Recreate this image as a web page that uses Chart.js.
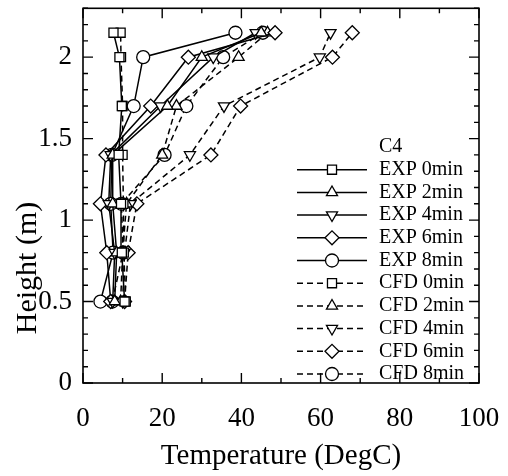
<!DOCTYPE html>
<html>
<head>
<meta charset="utf-8">
<script src="https://cdn.jsdelivr.net/npm/chart.js@4.4.1/dist/chart.umd.min.js"></script>
<style>
  html, body { margin: 0; padding: 0; background: #fff; }
  #wrap { width: 508px; height: 476px; }
</style>
</head>
<body>
<div id="wrap"><canvas id="myChart" width="508" height="476"></canvas></div>
<script>
// heights (m) where temperatures were taken
const heights = [0.5, 0.8, 1.1, 1.4, 1.7, 2.0, 2.15];

// temperatures (DegC)
const exp0 = [10.5, 9.8, 9.6, 9.0, 9.8, 9.2, 7.7];
const exp2 = [8.0, 8.5, 7.5, 7.5, 21.3, 30.0, 45.0];
const exp4 = [7.5, 8.0, 6.5, 7.0, 19.6, 32.9, 43.6];
const exp6 = [7.0, 6.0, 4.4, 5.8, 17.1, 26.6, 48.5];
const exp8 = [4.4, 7.6, 7.0, 7.3, 12.8, 15.2, 38.5];
const cfd0 = [10.8, 10.3, 10.2, 10.0, 10.0, 9.6, 9.5];
const cfd2 = [9.5, 10.0, 11.0, 20.0, 23.6, 39.3, 46.6];
const cfd4 = [10.0, 10.5, 12.0, 27.0, 35.6, 59.8, 62.5];
const cfd6 = [10.5, 11.4, 13.6, 32.3, 39.8, 63.0, 68.0];
const cfd8 = [7.4, 10.1, 9.7, 20.6, 26.1, 35.4, 45.4];

const seriesNames = ['EXP 0min', 'EXP 2min', 'EXP 4min', 'EXP 6min', 'EXP 8min',
                     'CFD 0min', 'CFD 2min', 'CFD 4min', 'CFD 6min', 'CFD 8min'];
const seriesData = [exp0, exp2, exp4, exp6, exp8, cfd0, cfd2, cfd4, cfd6, cfd8];

const xTicks = [0, 20, 40, 60, 80, 100];
const yTicks = [0, 0.5, 1, 1.5, 2];
const legendTitle = 'C4';

const FONT = '"Liberation Serif", "Times New Roman", serif';
const markers = [
  {style: 'rect', rot: 0, r: 6.4},
  {style: 'triangle', rot: 0, r: 6.4},
  {style: 'triangle', rot: 180, r: 6.4},
  {style: 'rectRot', rot: 0, r: 7.0},
  {style: 'circle', rot: 0, r: 6.5}
];

const datasets = seriesData.map(function(arr, i) {
  const m = markers[i % 5];
  return {
    label: seriesNames[i],
    data: arr.map((t, k) => ({x: t, y: heights[k]})),
    showLine: true,
    borderColor: '#000',
    borderWidth: 1.5,
    borderDash: i < 5 ? [] : [6, 4],
    pointStyle: m.style,
    pointRotation: m.rot,
    pointRadius: m.r,
    pointBackgroundColor: '#fff',
    pointBorderColor: '#000',
    pointBorderWidth: 1.3,
    tension: 0
  };
});

// frame + inward ticks on all four sides, legend in the chart area, y title
const decorations = {
  id: 'decorations',
  afterDraw(chart) {
    const ctx = chart.ctx;
    const a = chart.chartArea;
    const xs = chart.scales.x, ys = chart.scales.y;
    ctx.save();
    ctx.strokeStyle = '#000';
    ctx.lineWidth = 1.6;
    ctx.strokeRect(a.left, a.top, a.right - a.left, a.bottom - a.top);
    ctx.lineWidth = 1.4;
    ctx.beginPath();
    for (let v = 0; v <= 100; v += 10) {
      const px = xs.getPixelForValue(v);
      const len = xTicks.includes(v) ? 10 : 5;
      ctx.moveTo(px, a.bottom); ctx.lineTo(px, a.bottom - len);
      ctx.moveTo(px, a.top); ctx.lineTo(px, a.top + len);
    }
    for (let i = 0; i <= 23; i++) {
      const v = i / 10;
      const py = ys.getPixelForValue(v);
      const len = (i % 5 === 0) ? 10 : 5;
      ctx.moveTo(a.left, py); ctx.lineTo(a.left + len, py);
      ctx.moveTo(a.right, py); ctx.lineTo(a.right - len, py);
    }
    ctx.stroke();

    // legend
    const lx0 = 297, lx1 = 367, tx = 379;
    let ly = 147;
    const step = 22.7;
    ctx.fillStyle = '#000';
    ctx.font = '20px ' + FONT;
    ctx.textBaseline = 'middle';
    ctx.textAlign = 'left';
    ctx.fillText(legendTitle, tx, ly);
    chart.data.datasets.forEach(function(ds) {
      ly += step;
      ctx.save();
      ctx.lineWidth = ds.borderWidth;
      ctx.setLineDash(ds.borderDash);
      ctx.beginPath();
      ctx.moveTo(lx0, ly); ctx.lineTo(lx1, ly);
      ctx.stroke();
      ctx.restore();
      ctx.save();
      ctx.fillStyle = '#fff';
      ctx.strokeStyle = '#000';
      ctx.lineWidth = ds.pointBorderWidth;
      Chart.helpers.drawPoint(ctx, {pointStyle: ds.pointStyle, rotation: ds.pointRotation,
        radius: ds.pointRadius, borderWidth: ds.pointBorderWidth}, (lx0 + lx1) / 2, ly);
      ctx.restore();
      ctx.fillText(ds.label, tx, ly);
    });

    // y axis title
    ctx.save();
    ctx.translate(28, 268);
    ctx.rotate(-Math.PI / 2);
    ctx.font = '30px ' + FONT;
    ctx.textAlign = 'center';
    ctx.textBaseline = 'middle';
    ctx.fillText('Height (m)', 0, 0);
    ctx.restore();
    ctx.restore();
  }
};

function noPad(s) {
  s.paddingTop = 0; s.paddingBottom = 0; s.paddingLeft = 0; s.paddingRight = 0;
}

const ctx = document.getElementById('myChart').getContext('2d');
const myChart = new Chart(ctx, {
  type: 'scatter',
  data: { datasets: datasets },
  options: {
    responsive: false,
    animation: false,
    layout: { padding: { top: 5, right: 29, left: 0, bottom: 0 } },
    plugins: {
      legend: { display: false },
      tooltip: { enabled: false }
    },
    scales: {
      x: {
        type: 'linear',
        min: 0, max: 100,
        grid: { display: false, drawTicks: false },
        border: { display: false },
        afterBuildTicks: s => { s.ticks = xTicks.map(v => ({value: v})); },
        afterFit: s => { s.height = 93; noPad(s); },
        ticks: { color: '#000', font: { family: FONT, size: 27 }, padding: 20, maxRotation: 0,
                 callback: v => String(v) },
        title: { display: true, text: 'Temperature (DegC)', color: '#000',
                 font: { family: FONT, size: 29 }, padding: { top: 0, bottom: 2 } }
      },
      y: {
        type: 'linear',
        min: 0, max: 2.3,
        grid: { display: false, drawTicks: false },
        border: { display: false },
        afterBuildTicks: s => { s.ticks = yTicks.map(v => ({value: v})); },
        afterFit: s => { s.width = 83; noPad(s); },
        ticks: { color: '#000', font: { family: FONT, size: 27 }, padding: 11,
                 callback: v => String(v) }
      }
    }
  },
  plugins: [decorations]
});
</script>
</body>
</html>
